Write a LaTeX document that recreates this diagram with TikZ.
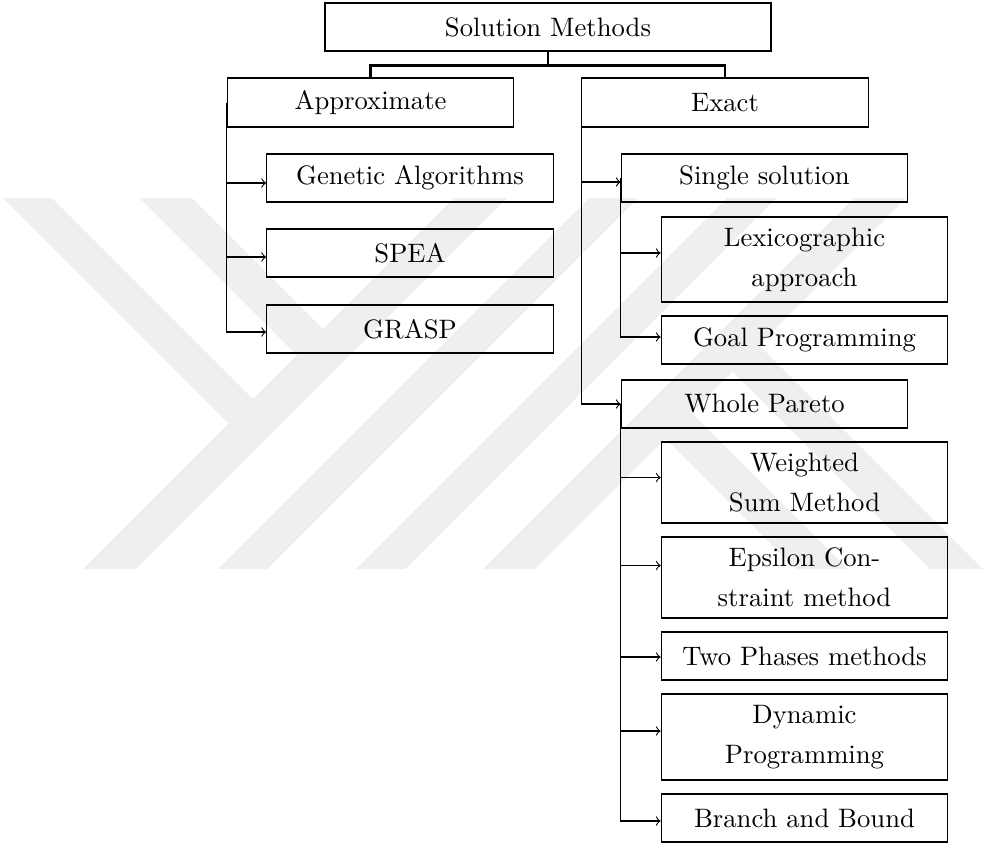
\documentclass[tikz,border=0pt]{standalone}
\usepackage{fontspec}
\definecolor{wmgray}{RGB}{239,239,239}
\begin{document}
\begin{tikzpicture}[x=0.375pt,y=-0.375pt,
  box/.style={draw=black, thin, rectangle, inner sep=0pt, align=center,
    font=\fontsize{10}{15}\selectfont, minimum width=107.5pt, minimum height=18pt},
  topbox/.style={box, minimum width=167.25pt},
  conn/.style={draw=black, thick},
  arr/.style={->, thin, draw=black},
  wm/.style={fill=wmgray, draw=none}]
\useasboundingbox (0,0) rectangle (986,844);
% watermark
\fill[wm] (83,569) -- (136,569) -- (507,198) -- (454,198) -- cycle;
\fill[wm] (218,569) -- (267,569) -- (638,198) -- (589,198) -- cycle;
\fill[wm] (356,569) -- (405,569) -- (776,198) -- (727,198) -- cycle;
\fill[wm] (483,569) -- (535,569) -- (906,198) -- (854,198) -- cycle;
\fill[wm] (3,198) -- (52,198) -- (266,412) -- (241.75,436.75) -- cycle;
\fill[wm] (140,198) -- (192,198) -- (336.25,342.25) -- (310.25,368.25) -- cycle;
\fill[wm] (930,569) -- (983,569) -- (746,332) -- (719.5,358.5) -- cycle;
\fill[wm] (796,569) -- (848,569) -- (678.5,399.5) -- (652.5,425.5) -- cycle;
% nodes
\node[topbox] (SM) at (548,27) {Solution Methods};
\node[box, minimum height=18.375pt] (Ap) at (370.5,102.5) {Approximate};
\node[box, minimum height=18.375pt] (Ex) at (725,102.5) {Exact};
\node[box] (GA) at (410,178) {Genetic Algorithms};
\node[box] (SP) at (410,253) {SPEA};
\node[box] (GR) at (410,329) {GRASP};
\node[box] (SS) at (764.5,178) {Single solution};
\node[box, minimum height=31.875pt] (LX) at (804.5,259.5) {Lexicographic\\approach};
\node[box] (GP) at (804.5,340) {Goal Programming};
\node[box] (WP) at (764.5,404) {Whole Pareto};
\node[box, minimum height=30.375pt] (WS) at (804.5,482.5) {Weighted\\Sum Method};
\node[box, minimum height=30.375pt] (EC) at (804.5,577.5) {Epsilon Con-\\straint method};
\node[box] (TP) at (804.5,656) {Two Phases methods};
\node[box, minimum height=32.25pt] (DP) at (804.5,737) {Dynamic\\Programming};
\node[box] (BB) at (804.5,818) {Branch and Bound};
% top connectors
\draw[conn] (SM.south) -- ++(0,-5.25pt) -| (Ap.north);
\draw[conn] (SM.south) -- ++(0,-5.25pt) -| (Ex.north);
% approximate branch
\draw[arr] (Ap.west) |- ([yshift=-1.875pt]GA.west);
\draw[arr] (Ap.west) |- ([yshift=-1.5pt]SP.west);
\draw[arr] (Ap.west) |- ([yshift=-1.125pt]GR.west);
% exact branch
\draw[arr] (Ex.west) |- ([yshift=-1.5pt]SS.west);
\draw[arr] (Ex.west) |- (WP.west);
\draw[arr] (SS.west) |- ([yshift=2.44pt]LX.west);
\draw[arr] (SS.west) |- ([yshift=1.125pt]GP.west);
\draw[arr] (WP.west) |- ([yshift=1.875pt]WS.west);
\draw[arr] (WP.west) |- ([yshift=4.5pt]EC.west);
\draw[arr] (WP.west) |- ([yshift=-0.375pt]TP.west);
\draw[arr] (WP.west) |- ([yshift=2.25pt]DP.west);
\draw[arr] (WP.west) |- ([yshift=-1.125pt]BB.west);
\end{tikzpicture}
\end{document}
